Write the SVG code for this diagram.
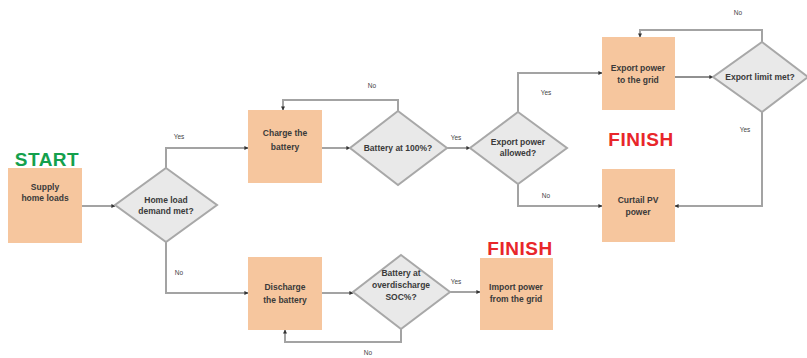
<svg xmlns="http://www.w3.org/2000/svg" width="807" height="358" viewBox="0 0 807 358">
<defs>
<marker id="ah" viewBox="0 0 10 10" refX="9" refY="5" markerWidth="4" markerHeight="4" orient="auto" markerUnits="userSpaceOnUse">
<path d="M0,0 L10,5 L0,10 z" fill="#333"/>
</marker>
<style>
.box{fill:#F6C69E;stroke:none}
.dia{fill:#E9E9E9;stroke:#A8A8A8;stroke-width:2}
.t{font-family:"Liberation Sans",Arial,sans-serif;font-weight:bold;font-size:8.5px;fill:#3a3a3a;text-anchor:middle}
.lbl{font-family:"Liberation Sans",Arial,sans-serif;font-size:6.5px;fill:#444;text-anchor:middle}
.c{fill:none;stroke:#A3A3A3;stroke-width:2;marker-end:url(#ah)}
.cb{fill:none;stroke:#222;stroke-width:1;marker-end:url(#ah)}
.big{font-family:"Liberation Sans",Arial,sans-serif;font-weight:bold;font-size:19px;text-anchor:middle;letter-spacing:0.5px}
</style>
</defs>
<rect width="807" height="358" fill="#fff"/>

<g id="connectors">
<path class="c" d="M82,206 H115"/>
<path class="c" d="M166,168 V148 H248"/>
<path class="c" d="M166,242 V293 H248"/>
<path class="c" d="M322,148 H350"/>
<path class="c" d="M398,111 V100 H283 V110"/>
<path class="c" d="M447,148 H470"/>
<path class="c" d="M518,112 V73 H602"/>
<path class="c" d="M518,184 V206 H602"/>
<path class="cb" d="M675,77 H713"/>
<path class="c" d="M762,42 V30 H640 V37"/>
<path class="c" d="M762,112 V206 H675"/>
<path class="c" d="M322,293 H353"/>
<path class="c" d="M401,329 V342 H285 V330"/>
<path class="c" d="M450,292 H480"/>
<text class="lbl" x="179" y="139">Yes</text>
<text class="lbl" x="179" y="275">No</text>
<text class="lbl" x="372" y="88">No</text>
<text class="lbl" x="456" y="140">Yes</text>
<text class="lbl" x="546" y="95">Yes</text>
<text class="lbl" x="546" y="198">No</text>
<text class="lbl" x="738" y="15">No</text>
<text class="lbl" x="745" y="132">Yes</text>
<text class="lbl" x="456" y="284">Yes</text>
<text class="lbl" x="368" y="355">No</text>
</g>

<text class="big" x="47" y="166" fill="#14A04C">START</text>
<text class="big" x="641" y="146" fill="#E8262A">FINISH</text>
<text class="big" x="520" y="255" fill="#E8262A">FINISH</text>

<g id="supply">
<rect class="box" x="8" y="168" width="74" height="75"/>
<text class="t" x="45" y="190">Supply</text>
<text class="t" x="45" y="201">home loads</text>
</g>
<g id="demand">
<polygon class="dia" points="166,168 217,205 166,242 115,205"/>
<text class="t" x="166" y="203">Home load</text>
<text class="t" x="166" y="214">demand met?</text>
</g>
<g id="charge">
<rect class="box" x="248" y="110" width="74" height="73"/>
<text class="t" x="285" y="136">Charge the</text>
<text class="t" x="285" y="150">battery</text>
</g>
<g id="full">
<polygon class="dia" points="398,111 447,148 398,185 350,148"/>
<text class="t" x="398" y="151">Battery at 100%?</text>
</g>
<g id="allowed">
<polygon class="dia" points="518,112 567,148 518,184 470,148"/>
<text class="t" x="518" y="145">Export power</text>
<text class="t" x="518" y="156">allowed?</text>
</g>
<g id="export">
<rect class="box" x="602" y="37" width="73" height="73"/>
<text class="t" x="638" y="71">Export power</text>
<text class="t" x="638" y="83">to the grid</text>
</g>
<g id="limit">
<polygon class="dia" points="762,42 808,77 762,112 713,77"/>
<text class="t" x="760" y="80">Export limit met?</text>
</g>
<g id="curtail">
<rect class="box" x="602" y="169" width="73" height="73"/>
<text class="t" x="638" y="203">Curtail PV</text>
<text class="t" x="638" y="215">power</text>
</g>
<g id="discharge">
<rect class="box" x="248" y="257" width="74" height="73"/>
<text class="t" x="285" y="290">Discharge</text>
<text class="t" x="285" y="303">the battery</text>
</g>
<g id="soc">
<polygon class="dia" points="401,255 450,292 401,329 353,292"/>
<text class="t" x="401" y="276">Battery at</text>
<text class="t" x="401" y="288">overdischarge</text>
<text class="t" x="401" y="300">SOC%?</text>
</g>
<g id="import">
<rect class="box" x="480" y="258" width="73" height="72"/>
<text class="t" x="516" y="290">Import power</text>
<text class="t" x="516" y="302">from the grid</text>
</g>
</svg>
